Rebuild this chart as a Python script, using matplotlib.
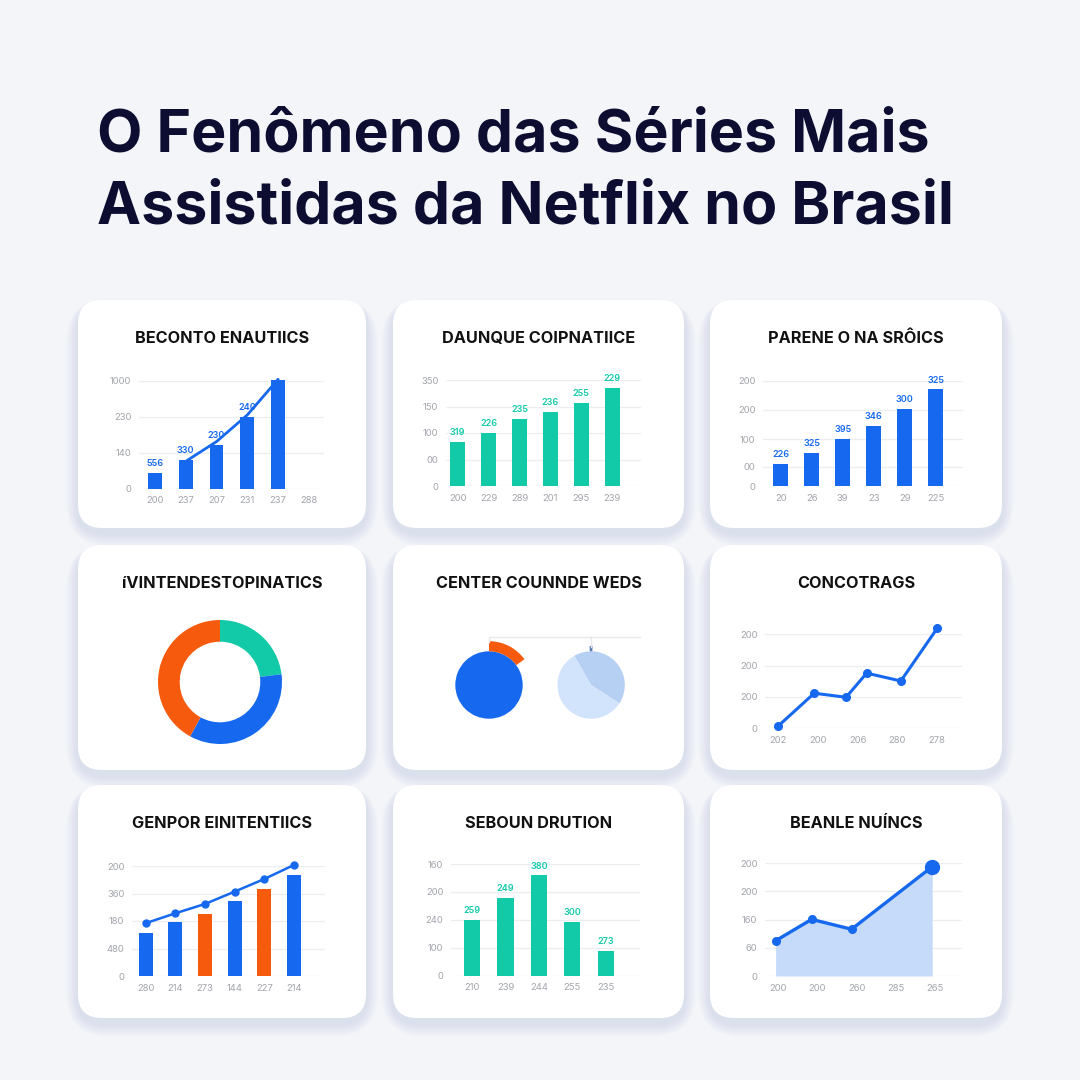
import numpy as np
import matplotlib.pyplot as plt
from matplotlib.patches import FancyBboxPatch

W, H = 1080, 1080

BG = '#f3f5f9'
BLUE = '#1669ef'
TEAL = '#12c9a8'
ORANGE = '#f65a0c'
LIGHT_BLUE = '#c6dbfa'
NAVY = '#0c0d30'
GRID = '#eceef2'
TICK = '#a2a5ab'

# ---- data ----
title_lines = ['O Fenômeno das Séries Mais', 'Assistidas da Netflix no Brasil']
panel_titles = ['BECONTO ENAUTIICS', 'DAUNQUE COIPNATIICE', 'PARENE O NA SRÔICS',
                'íVINTENDESTOPINATICS', 'CENTER COUNNDE WEDS', 'CONCOTRAGS',
                'GENPOR EINITENTIICS', 'SEBOUN DRUTION', 'BEANLE NUÍNCS']

p1_x = ['200', '237', '207', '231', '237', '288']
p1_ylab = ['0', '140', '230', '1000']
p1_bars = [0.43, 0.80, 1.21, 2.00, 3.02]
p1_text = ['556', '330', '230', '240', '398']
p1_line = [0.76, 1.31, 2.05, 3.04]

p2_x = ['200', '229', '289', '201', '295', '239']
p2_ylab = ['0', '00', '100', '150', '350']
p2_bars = [1.65, 2.01, 2.54, 2.79, 3.14, 3.69]
p2_text = ['319', '226', '235', '236', '255', '229']

p3_x = ['20', '26', '39', '23', '29', '225']
p3_yticks = [0, 0.74, 1.78, 2.9, 4.0]
p3_ylab = ['0', '00', '100', '200', '200']
p3_bars = [0.83, 1.27, 1.78, 2.30, 2.92, 3.68]
p3_text = ['226', '325', '395', '346', '300', '325']

p4_share = [23, 35, 42]

p5_left_ring = [15, 85]
p5_right = [42.5, 57.5]
p5_right_ring = [1.2, 98.8]

p6_xlab = ['202', '200', '206', '280', '278']
p6_ylab = ['0', '200', '200', '200']
p6_x = [0.0, 0.91, 1.71, 2.23, 3.09, 4.01]
p6_y = [0.07, 1.12, 0.99, 1.76, 1.51, 3.20]

p7_x = ['280', '214', '273', '144', '227', '214']
p7_ylab = ['0', '480', '180', '360', '200']
p7_bars = [1.57, 1.95, 2.24, 2.72, 3.17, 3.67]
p7_colors = [BLUE, BLUE, ORANGE, BLUE, ORANGE, BLUE]
p7_line = [1.92, 2.28, 2.62, 3.07, 3.53, 4.04]

p8_x = ['210', '239', '244', '255', '235']
p8_ylab = ['0', '100', '240', '200', '160']
p8_bars = [2.00, 2.77, 3.59, 1.92, 0.90]
p8_text = ['259', '249', '380', '300', '273']

p9_xlab = ['200', '200', '260', '285', '265']
p9_ylab = ['0', '60', '160', '200', '200']
p9_x = [-0.07, 0.85, 1.87, 3.93]
p9_y = [1.25, 2.01, 1.66, 3.88]

plt.rcParams['font.family'] = ['Inter', 'DejaVu Sans']

fig = plt.figure(figsize=(W / 100, H / 100), dpi=100, facecolor=BG)
bg = fig.add_axes([0, 0, 1, 1])
bg.set_xlim(0, W)
bg.set_ylim(H, 0)
bg.axis('off')
bg.set_facecolor(BG)

for i, line in enumerate(title_lines):
    bg.text(97, 151 + i * 72, line, fontsize=42.5, fontweight='bold', color=NAVY, va='baseline')

cols = [(78, 366), (393, 684), (710, 1002)]
rows = [(300, 528), (545, 770), (785, 1018)]
k = 0
for (y0, y1) in rows:
    for (x0, x1) in cols:
        # soft bluish shadow
        for s in range(12):
            g = 2 + s * 1.6
            bg.add_patch(FancyBboxPatch((x0 - g * 0.6, y0 + 5 - g * 0.3), x1 - x0 + g * 1.2, y1 - y0 + g * 1.0,
                                        boxstyle='round,pad=0,rounding_size=%f' % (24 + g),
                                        fc='#b4c4e6', ec='none', alpha=0.03))
        bg.add_patch(FancyBboxPatch((x0, y0), x1 - x0, y1 - y0,
                                    boxstyle='round,pad=0,rounding_size=24', fc='white', ec='none'))
        bg.text((x0 + x1) / 2, y0 + 43, panel_titles[k], fontsize=11.7, fontweight='bold',
                color='#111111', ha='center', va='baseline')
        k += 1


def px_axes(left, right, base, top, ymax):
    # pixel box -> figure axes; base/top are the pixel rows of y=0 and y=ymax
    ax = fig.add_axes([left / W, 1 - base / H, (right - left) / W, (base - top) / H])
    ax.set_ylim(0, ymax)
    ax.patch.set_alpha(0)
    for sp in ax.spines.values():
        sp.set_visible(False)
    ax.tick_params(length=0, labelsize=6.8, labelcolor=TICK, pad=5.5)
    ax.grid(axis='y', color=GRID, lw=0.9)
    ax.set_axisbelow(True)
    return ax


def bar_labels(ax, xs, hs, texts, color):
    for x, h, t in zip(xs, hs, texts):
        ax.annotate(t, (x, h), xytext=(0, 3.5), textcoords='offset points', ha='center',
                    va='bottom', fontsize=6.5, fontweight='semibold', color=color)


# panel 1
ax = px_axes(139, 324, 488.7, 380.7, 3)
ax.set_xlim(-0.52, 5.49)
ax.set_yticks(range(len(p1_ylab)), p1_ylab)
ax.set_xticks(range(len(p1_x)), p1_x)
xs = np.arange(len(p1_bars))
ax.bar(xs, p1_bars, width=0.45, color=BLUE, clip_on=False)
ax.plot(xs[1:], p1_line, color=BLUE, lw=2, clip_on=False, solid_capstyle='round')
bar_labels(ax, xs, p1_bars, p1_text, BLUE)

# panel 2
ax = px_axes(446, 641, 486, 380, 4)
ax.set_xlim(-0.38, 5.93)
ax.set_yticks(range(len(p2_ylab)), p2_ylab)
ax.set_xticks(range(len(p2_x)), p2_x)
xs = np.arange(len(p2_bars))
ax.bar(xs, p2_bars, width=0.49, color=TEAL, clip_on=False)
bar_labels(ax, xs, p2_bars, p2_text, TEAL)

# panel 3
ax = px_axes(763, 963, 486, 381, 4)
ax.set_xlim(-0.57, 5.88)
ax.set_yticks(p3_yticks, p3_ylab)
ax.set_xticks(range(len(p3_x)), p3_x)
xs = np.arange(len(p3_bars))
ax.bar(xs, p3_bars, width=0.48, color=BLUE, clip_on=False)
bar_labels(ax, xs, p3_bars, p3_text, BLUE)

# panel 4: donut
ax = fig.add_axes([158 / W, 1 - 744 / H, 124 / W, 124 / H])
ax.pie(p4_share, colors=[TEAL, BLUE, ORANGE], startangle=90, counterclock=False,
       wedgeprops=dict(width=0.35, linewidth=0))
ax.set_xlim(-1, 1)
ax.set_ylim(-1, 1)

# panel 5: two pies
r_px = 33.7
ax = fig.add_axes([470 / W, 1 - 740 / H, 190 / W, 110 / H])
c_left = (0, 0)
c_right = (3.03, 0)
ax.plot([c_left[0], 4.48], [1.43, 1.43], color='#e6e8ec', lw=1)
ax.plot([c_left[0], c_left[0]], [1.43, 1.28], color='#e6e8ec', lw=1)
ax.plot([c_right[0], c_right[0]], [1.43, 1.14], color='#e6e8ec', lw=1)
ax.pie([1], colors=[BLUE], center=c_left, radius=1, wedgeprops=dict(linewidth=0))
ax.pie(p5_left_ring, colors=[ORANGE, 'none'], center=c_left, radius=1.3, startangle=90,
       counterclock=False, wedgeprops=dict(width=0.3, linewidth=0))
ax.pie(p5_right, colors=['#b6d0f4', '#d2e4fb'], center=c_right, radius=1, startangle=120,
       counterclock=False, wedgeprops=dict(linewidth=0))
ax.pie(p5_right_ring, colors=['#5679b0', 'none'], center=c_right, radius=1.16, startangle=92.2,
       counterclock=False, wedgeprops=dict(width=0.16, linewidth=0))
ax.set_xlim(-19 / r_px, 171 / r_px)
ax.set_ylim(-55 / r_px, 55 / r_px)
ax.set_aspect('auto')
ax.axis('off')

# panel 6: line
ax = px_axes(765, 962, 728.3, 634.3, 3)
ax.set_xlim(-0.33, 4.63)
ax.set_yticks(range(len(p6_ylab)), p6_ylab)
ax.set_xticks(range(len(p6_xlab)), p6_xlab)
ax.plot(p6_x, p6_y, color=BLUE, lw=2.2, marker='o', ms=5.5, clip_on=False)

# panel 7: bars + line
ax = px_axes(132, 325, 976, 866, 4)
ax.set_xlim(-0.46, 6.04)
ax.set_yticks(range(len(p7_ylab)), p7_ylab)
ax.set_xticks(range(len(p7_x)), p7_x)
xs = np.arange(len(p7_bars))
ax.bar(xs, p7_bars, width=0.47, color=p7_colors, clip_on=False)
ax.plot(xs, p7_line, color=BLUE, lw=1.8, marker='o', ms=5, clip_on=False)

# panel 8: teal bars
ax = px_axes(451, 640, 975.7, 864, 4)
ax.set_xlim(-0.63, 5.02)
ax.set_yticks(range(len(p8_ylab)), p8_ylab)
ax.set_xticks(range(len(p8_x)), p8_x)
xs = np.arange(len(p8_bars))
ax.bar(xs, p8_bars, width=0.48, color=TEAL, clip_on=False)
bar_labels(ax, xs, p8_bars, p8_text, TEAL)

# panel 9: area
ax = px_axes(765, 962, 976, 863.3, 4)
ax.set_xlim(-0.34, 4.69)
ax.set_yticks(range(len(p9_ylab)), p9_ylab)
ax.set_xticks(range(len(p9_xlab)), p9_xlab)
ax.fill_between(p9_x, p9_y, color=LIGHT_BLUE, lw=0)
ax.plot(p9_x, p9_y, color=BLUE, lw=2.4, marker='o', ms=5.5, clip_on=False)
ax.plot(p9_x[-1:], p9_y[-1:], 'o', color=BLUE, ms=10, clip_on=False)

fig.savefig('out.png', dpi=100, facecolor=BG)
